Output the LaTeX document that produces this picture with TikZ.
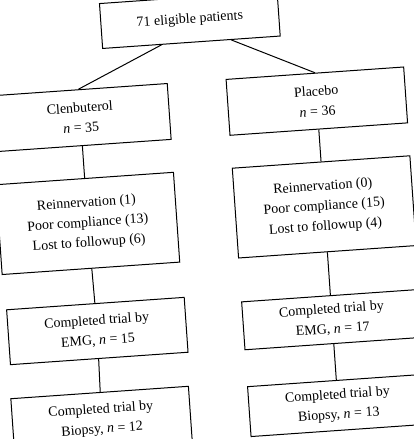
\documentclass[tikz,border=0pt]{standalone}
\usepackage{fontspec}
\setmainfont{Liberation Serif}
\usepackage{tikz}
\tikzset{
  box/.style={draw, rectangle, line width=1pt, align=center, minimum width=178pt, inner sep=2pt,
              font=\fontsize{14}{20}\selectfont},
  conn/.style={draw, line width=1pt, -}
}
\newcommand{\nn}[1]{\textit{n}~=~#1}

\begin{document}
\begin{tikzpicture}[x=1pt, y=1pt]
\useasboundingbox (0,0) rectangle (413,-439);
\begin{scope}[rotate=4, transform shape]
\node[box, minimum height=45pt] (all) at (188,-33) {71 eligible patients};
\node[box, minimum height=56pt] (clen) at (72,-123) {Clenbuterol\\ \nn{35}};
\node[box, minimum height=56pt] (plac) at (309,-123) {Placebo\\ \nn{36}};
\node[box, minimum height=90pt] (drop1) at (72,-229) {Reinnervation (1)\\ Poor compliance (13)\\ Lost to followup (6)};
\node[box, minimum height=90pt] (drop2) at (309,-229) {Reinnervation (0)\\ Poor compliance (15)\\ Lost to followup (4)};
\node[box, minimum height=55pt] (emg1) at (74,-337) {Completed trial by\\ EMG, \nn{15}};
\node[box, minimum height=48pt] (emg2) at (309,-342) {Completed trial by\\ EMG, \nn{17}};
\node[box, minimum height=55pt] (bio1) at (72,-426) {Completed trial by\\ Biopsy, \nn{12}};
\node[box, minimum height=50pt] (bio2) at (309,-428) {Completed trial by\\ Biopsy, \nn{13}};
\draw[conn] ([xshift=-30pt]all.south) -- (clen.north);
\draw[conn] ([xshift=40pt]all.south) -- (plac.north);
\draw[conn] (clen) -- (drop1); \draw[conn] (drop1) -- (emg1); \draw[conn] (emg1) -- (bio1);
\draw[conn] (plac) -- (drop2); \draw[conn] (drop2) -- (emg2); \draw[conn] (emg2) -- (bio2);
\end{scope}
\end{tikzpicture}
\end{document}
